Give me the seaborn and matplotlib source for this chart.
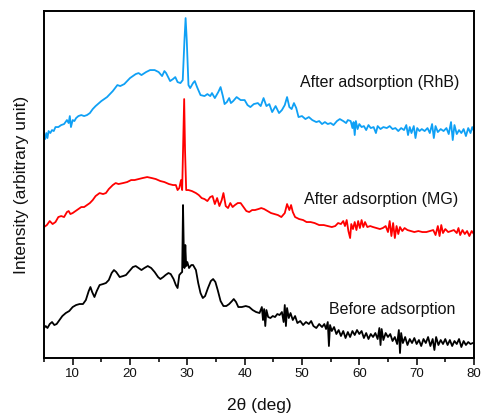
import numpy as np
import matplotlib
matplotlib.use("Agg")
import matplotlib.pyplot as plt
import seaborn as sns
from matplotlib.ticker import MultipleLocator

# -----------------------------------
# XRD PATTERNS (arbitrary units)
# -----------------------------------

rhb_2theta = [
    5.0, 5.2, 5.4, 5.6, 5.8, 6.1, 6.4, 6.7, 7.0, 7.5, 8.0, 8.5, 9.0, 9.3, 9.5, 9.7,
    10.0, 10.3, 10.6, 11.0, 11.5, 12.0, 12.5, 13.0, 13.5, 14.0, 15.0, 16.0, 17.0,
    17.8, 18.3, 19.0, 20.0, 21.0, 21.5, 22.0, 22.8, 23.5, 24.3, 25.0, 25.6, 26.0,
    26.3, 27.0, 27.5, 27.9, 28.3, 28.8, 29.2, 29.5, 29.7, 29.9, 30.2, 30.5, 31.0,
    31.3, 31.7, 32.3, 33.0, 33.5, 34.0, 34.3, 34.8, 35.4, 35.8, 36.2, 36.5, 36.9,
    37.3, 37.6, 38.0, 38.6, 39.3, 40.0, 40.5, 41.0, 41.6, 42.3, 42.8, 43.3, 43.8,
    44.3, 44.8, 45.4, 46.0, 46.5, 47.0, 47.4, 47.8, 48.2, 48.6, 49.0, 49.4, 50.0,
    50.6, 51.2, 51.8, 52.5, 53.0, 53.5, 54.0, 54.5, 55.0, 55.5, 56.1, 56.6, 57.2,
    57.7, 58.0, 58.5, 58.8, 59.0, 59.2, 59.4, 59.7, 60.0, 60.4, 60.8, 61.2, 61.6,
    62.0, 62.5, 62.9, 63.2, 63.7, 64.2, 64.8, 65.3, 65.8, 66.3, 66.8, 67.3, 67.8,
    68.2, 68.5, 68.8, 69.1, 69.5, 69.8, 70.1, 70.5, 70.9, 71.4, 71.9, 72.3, 72.7,
    73.0, 73.3, 73.7, 74.2, 74.7, 75.2, 75.6, 76.0, 76.3, 76.6, 77.0, 77.4, 77.8,
    78.2, 78.6, 79.0, 79.4, 79.7, 80.0,
]
rhb_intensity = [
    224, 219, 225, 220, 227, 225, 228, 227, 231, 231, 233, 234, 238, 235, 242, 231,
    238, 237, 240, 242, 243, 242, 243, 245, 249, 252, 257, 261, 267,
    273, 272, 274, 280, 284, 285, 283, 286, 288, 288, 286, 282, 287,
    285, 277, 279, 281, 276, 275, 278, 318, 340, 318, 273, 270, 275,
    277, 271, 263, 262, 264, 262, 265, 260, 266, 271, 262, 254, 256,
    260, 255, 257, 261, 258, 258, 253, 251, 254, 255, 252, 260, 252,
    254, 246, 252, 245, 248, 253, 261, 251, 249, 255, 250, 241, 242,
    239, 241, 238, 236, 237, 234, 236, 234, 235, 233, 237, 239, 237,
    235, 238, 237, 230, 236, 223, 237, 229, 234, 231, 232, 228, 233,
    230, 231, 225, 232, 229, 231, 230, 232, 229, 230, 227, 230, 228,
    233, 223, 231, 225, 232, 220, 230, 227, 229, 227, 230, 225, 234,
    220, 232, 226, 229, 227, 230, 224, 236, 218, 233, 224, 228, 225,
    229, 222, 230, 225, 231, 227,
]

mg_2theta = [
    5.0, 5.5, 6.0, 6.5, 7.0, 7.5, 8.0, 8.5, 9.0, 9.3, 9.6, 10.0, 10.5, 11.0, 11.5,
    12.0, 12.5, 13.0, 13.5, 14.0, 14.7, 15.3, 15.8, 16.3, 17.0, 17.5, 18.0, 18.8,
    19.5, 20.2, 20.8, 21.5, 22.2, 23.0, 23.8, 24.5, 25.3, 26.0, 26.8, 27.5, 28.0,
    28.3, 28.6, 28.9, 29.1, 29.3, 29.45, 29.6, 29.8, 30.2, 30.8, 31.5, 32.0, 32.5,
    33.0, 33.5, 34.0, 34.4, 34.8, 35.2, 35.6, 36.0, 36.3, 36.7, 37.1, 37.5, 37.9,
    38.3, 38.8, 39.3, 39.8, 40.3, 40.8, 41.3, 41.8, 42.4, 42.9, 43.4, 44.0, 44.6,
    45.2, 45.8, 46.4, 47.0, 47.4, 47.8, 48.1, 48.4, 48.8, 49.5, 50.2, 50.8, 51.5,
    52.2, 53.0, 53.8, 54.5, 55.2, 55.8, 56.3, 56.8, 57.2, 57.5, 57.8, 58.1, 58.4,
    58.6, 58.9, 59.2, 59.5, 59.8, 60.1, 60.4, 60.7, 61.0, 61.4, 61.9, 62.4, 63.0,
    63.6, 64.1, 64.6, 65.0, 65.3, 65.6, 65.9, 66.2, 66.5, 66.8, 67.1, 67.5, 67.9,
    68.4, 69.0, 69.6, 70.3, 71.0, 71.7, 72.3, 72.9, 73.3, 73.7, 74.0, 74.3, 74.6,
    75.0, 75.5, 76.0, 76.5, 77.0, 77.3, 77.6, 78.0, 78.4, 78.8, 79.2, 79.6, 80.0,
]
mg_intensity = [
    131, 133, 137, 134, 136, 141, 142, 141, 146, 147, 144, 145, 147, 149, 151,
    151, 153, 155, 158, 162, 165, 164, 165, 169, 173, 175, 174, 175,
    176, 178, 178, 179, 180, 181, 180, 179, 177, 176, 174, 173, 173,
    168, 170, 178, 168, 218, 259, 208, 168, 168, 167, 165, 163, 160,
    159, 157, 161, 162, 154, 160, 152, 158, 165, 152, 150, 155, 151,
    153, 155, 155, 151, 147, 146, 148, 148, 149, 150, 149, 147, 145,
    144, 143, 141, 145, 154, 148, 153, 146, 141, 139, 138, 136, 136,
    135, 133, 133, 132, 131, 132, 135, 134, 137, 132, 138, 127, 120,
    134, 129, 136, 128, 137, 130, 138, 131, 136, 131, 132, 131, 130,
    129, 130, 132, 126, 137, 122, 135, 120, 132, 124, 131, 127, 130,
    128, 127, 126, 127, 126, 126, 127, 128, 123, 132, 122, 133, 125,
    129, 126, 127, 128, 125, 130, 123, 128, 124, 127, 122, 127, 124,
]

before_2theta = [
    5.0, 5.3, 5.6, 6.0, 6.4, 6.8, 7.2, 7.7, 8.2, 8.8, 9.4, 10.0, 10.6, 11.2, 11.8,
    12.3, 12.8, 13.1, 13.4, 13.8, 14.2, 14.7, 15.3, 15.8, 16.3, 16.8, 17.2, 17.6,
    18.2, 18.8, 19.3, 19.9, 20.5, 21.0, 21.5, 22.0, 22.5, 23.1, 23.7, 24.3, 24.9,
    25.3, 25.8, 26.2, 26.7, 27.1, 27.6, 28.0, 28.3, 28.6, 28.9, 29.1, 29.25, 29.4,
    29.5, 29.65, 29.8, 30.0, 30.3, 30.7, 31.0, 31.5, 31.9, 32.3, 32.7, 33.1, 33.6,
    34.1, 34.5, 34.9, 35.3, 35.8, 36.3, 36.8, 37.3, 37.8, 38.1, 38.5, 38.9, 39.5,
    40.2, 40.8, 41.4, 42.0, 42.6, 43.0, 43.2, 43.4, 43.6, 43.8, 44.1, 44.5, 44.9,
    45.3, 45.7, 46.1, 46.5, 46.8, 47.0, 47.2, 47.4, 47.7, 48.0, 48.4, 48.8, 49.2,
    49.7, 50.2, 50.7, 51.2, 51.6, 52.0, 52.5, 53.0, 53.5, 53.9, 54.2, 54.5, 54.7,
    54.9, 55.2, 55.6, 56.0, 56.4, 56.8, 57.2, 57.6, 58.0, 58.4, 58.8, 59.2, 59.6,
    60.0, 60.4, 60.8, 61.2, 61.6, 62.0, 62.4, 62.8, 63.2, 63.5, 63.7, 63.9, 64.2,
    64.6, 65.0, 65.4, 65.8, 66.2, 66.6, 66.9, 67.1, 67.3, 67.6, 68.0, 68.4, 68.8,
    69.2, 69.6, 70.0, 70.4, 70.8, 71.2, 71.6, 72.0, 72.4, 72.8, 73.1, 73.4, 73.8,
    74.2, 74.6, 75.0, 75.4, 75.8, 76.2, 76.6, 77.0, 77.4, 77.8, 78.2, 78.6, 79.0,
    79.4, 79.8, 80.0,
]
before_intensity = [
    30, 32, 30, 34, 36, 33, 34, 38, 42, 45, 47, 51, 53, 54, 54,
    58, 67, 71, 66, 61, 67, 73, 74, 75, 78, 85, 88, 86,
    81, 82, 83, 87, 91, 92, 90, 88, 90, 92, 90, 86, 81,
    79, 81, 83, 85, 84, 79, 73, 70, 83, 85, 86, 153, 103,
    90, 113, 92, 96, 90, 93, 93, 88, 75, 65, 60, 62, 70,
    77, 79, 76, 68, 57, 52, 52, 54, 57, 59, 56, 51, 51,
    52, 51, 48, 46, 45, 51, 38, 49, 32, 48, 41, 40, 42,
    41, 44, 43, 46, 36, 53, 32, 50, 40, 45, 38, 42, 35,
    37, 33, 36, 34, 37, 32, 30, 34, 31, 34, 29, 36, 12,
    33, 27, 31, 24, 28, 22, 27, 20, 26, 21, 27, 23, 28,
    24, 27, 20, 25, 19, 24, 21, 25, 19, 30, 13, 29, 18,
    25, 21, 24, 17, 21, 14, 28, 5, 25, 15, 21, 13, 19,
    15, 20, 14, 18, 12, 19, 15, 21, 12, 19, 8, 21, 13,
    18, 14, 19, 13, 18, 12, 17, 14, 19, 11, 17, 13, 16,
    14, 15, 15,
]

labels = ["After adsorption (RhB)", "After adsorption (MG)", "Before adsorption"]
colors = ["#0fa0f5", "#ff0000", "#000000"]


def main():

    sns.set_style("ticks")
    plt.rcParams['font.family'] = ['Liberation Sans', 'DejaVu Sans']
    plt.rcParams['text.color'] = '#111111'
    plt.rcParams['axes.labelcolor'] = '#111111'
    plt.rcParams['xtick.color'] = '#111111'

    fig = plt.figure(figsize=(4.82, 4.15), dpi=100)
    ax = fig.add_axes([0.0913, 0.1373, 0.892, 0.836])

    series = [
        (rhb_2theta, rhb_intensity),
        (mg_2theta, mg_intensity),
        (before_2theta, before_intensity),
    ]

    for (x, y), color in zip(series, colors):
        sns.lineplot(
            x=x,
            y=y,
            color=color,
            linewidth=1.3,
            estimator=None,
            ax=ax
        )

    # curve labels
    ax.text(77.4, 276, labels[0], fontsize=11.5, ha='right', va='center')
    ax.text(77.3, 159, labels[1], fontsize=11.5, ha='right', va='center')
    ax.text(76.8, 49, labels[2], fontsize=11.5, ha='right', va='center')

    ax.set_xlim(5, 80)
    ax.set_ylim(0, 347)

    ax.xaxis.set_major_locator(MultipleLocator(10))
    ax.xaxis.set_minor_locator(MultipleLocator(5))
    ax.set_xticks([10, 20, 30, 40, 50, 60, 70, 80])
    ax.tick_params(axis='x', which='major', direction='out', length=5,
                   width=1.2, labelsize=9.5, pad=2)
    ax.tick_params(axis='x', which='minor', direction='out', length=3, width=1.2)
    ax.set_yticks([])

    for spine in ax.spines.values():
        spine.set_visible(True)
        spine.set_linewidth(1.4)
        spine.set_color('black')

    ax.set_xlabel("2\u03b8 (deg)", fontsize=12.5, labelpad=13)
    ax.set_ylabel("Intensity (arbitrary unit)", fontsize=12.5, labelpad=11)

    fig.savefig("out.png", dpi=100)


if __name__ == "__main__":
    main()
